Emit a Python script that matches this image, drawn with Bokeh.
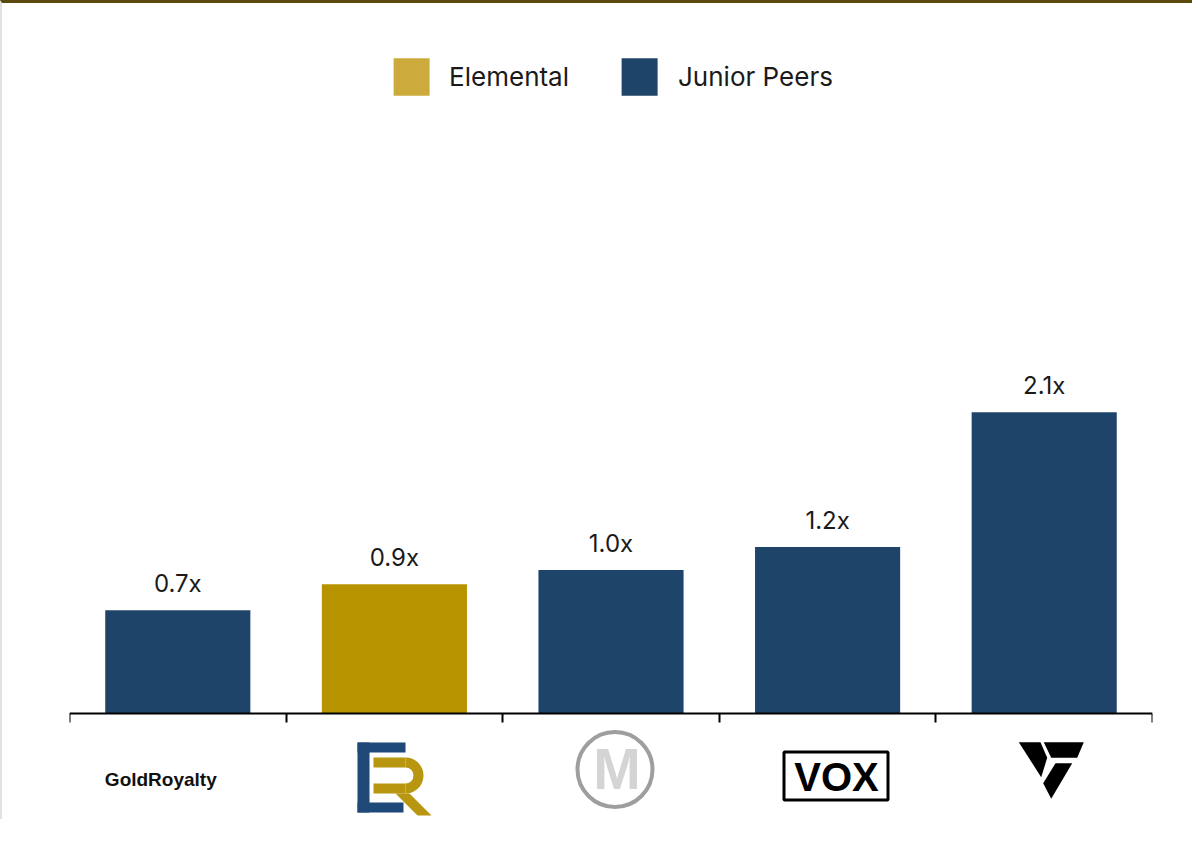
from bokeh.plotting import figure
from bokeh.models import (Range1d, FixedTicker, CustomJSTickFormatter, Legend,
                          LegendItem, ColumnDataSource)
from bokeh.core.properties import value
from bokeh.embed import file_html
from bokeh.resources import INLINE

# ---------------- data ----------------
companies = ["Gold Royalty", "Elemental Royalties", "Metalla", "Vox Royalty", "Versamet"]
multiples = [0.72, 0.90, 1.00, 1.16, 2.10]
value_labels = ["0.7x", "0.9x", "1.0x", "1.2x", "2.1x"]
groups = ["Junior Peers", "Elemental", "Junior Peers", "Junior Peers", "Junior Peers"]
series = ["Elemental", "Junior Peers"]

# ---------------- style ----------------
BAR_COLORS = {"Elemental": "#b89300", "Junior Peers": "#1f4469"}
LEGEND_COLORS = {"Elemental": "#ccab3c", "Junior Peers": "#1f4469"}
LABEL_FONT = "Inter"

FRAME_W = 1083
FRAME_H = 816
AXIS_PX = 710          # axis line position from frame top (px)
PX_PER_UNIT = 143.5    # vertical pixels per 1.0x
n = len(companies)
XPX = FRAME_W / n      # pixels per category

y_end = AXIS_PX / PX_PER_UNIT
y_start = -(FRAME_H - AXIS_PX) / PX_PER_UNIT

p = figure(frame_width=FRAME_W, frame_height=FRAME_H,
           x_range=Range1d(0, n), y_range=Range1d(y_start, y_end),
           output_backend="svg", toolbar_location=None, y_axis_location=None,
           min_border_left=67, min_border_right=40, min_border_top=0,
           min_border_bottom=0, background_fill_color="white",
           border_fill_color="white")
p.styles = {"border-top": "3px solid #5b4a0c", "border-left": "2px solid #e2e2e2"}
p.outline_line_color = None
p.xgrid.visible = False
p.ygrid.visible = False

positions = [i + 0.5 for i in range(n)]
src = ColumnDataSource(dict(x=positions, top=multiples, label=value_labels,
                            color=[BAR_COLORS[g] for g in groups]))
p.vbar(x="x", top="top", width=0.67, source=src, fill_color="color", line_color=None)
p.text(x="x", y="top", text="label", source=src, text_align="center",
       text_baseline="alphabetic", y_offset=-27, text_font=value(LABEL_FONT),
       text_font_size="24px", text_color="#1a1a1a")

# legend proxies (zero-height bars at each group's positions; swatch colours
# are lighter than the bar colours in the reference)
items = []
for s in series:
    xs = [positions[i] for i, g in enumerate(groups) if g == s]
    r = p.vbar(x=xs, top=[0] * len(xs), bottom=[0] * len(xs), width=0.01,
               fill_color=LEGEND_COLORS[s], line_color=None)
    items.append(LegendItem(label=s, renderers=[r]))
legend = Legend(items=items, orientation="horizontal", location="top_center",
                glyph_width=45, glyph_height=47, label_standoff=16, spacing=48,
                label_text_font=LABEL_FONT, label_text_font_size="26px",
                label_text_color="#1a1a1a", border_line_color=None,
                background_fill_alpha=0, margin=50, padding=0)
p.add_layout(legend)

# axis along y = 0 with ticks at category boundaries
ax = p.xaxis[0]
ax.fixed_location = 0
ax.ticker = FixedTicker(ticks=list(range(n + 1)))
ax.formatter = CustomJSTickFormatter(code="return ''")
ax.axis_line_color = "black"
ax.axis_line_width = 2
ax.major_tick_line_color = "black"
ax.major_tick_line_width = 2
ax.major_tick_out = 9
ax.major_tick_in = 0
ax.minor_tick_line_color = None
ax.major_label_standoff = 0
ax.major_label_text_font_size = "6px"

# ---------------- logos under the axis (pixel offsets from category centre / axis) ----
def lx(i, dx):
    return i + 0.5 + dx / XPX

def ly(dy):
    return -dy / PX_PER_UNIT

# 0: Gold Royalty word mark
p.text(x=[lx(0, -17)], y=[ly(66)], text=["GoldRoyalty"], text_align="center",
       text_baseline="alphabetic", text_font=value("Liberation Sans"),
       text_font_style="bold", text_font_size="19px", text_color="#111111")

# 1: Elemental "ER" mark
c = 393.9
E_parts = [(357, 369, 742, 812), (357, 405, 742, 752), (357, 403, 802, 812)]
p.quad(left=[lx(1, a - c) for a, b, t, bt in E_parts],
       right=[lx(1, b - c) for a, b, t, bt in E_parts],
       top=[ly(t - 713) for a, b, t, bt in E_parts],
       bottom=[ly(bt - 713) for a, b, t, bt in E_parts],
       fill_color="#1f4978", line_color=None)
R_parts = [(373, 405, 757, 767), (373, 405, 783, 793)]
gold = "#b8960f"
p.quad(left=[lx(1, a - c) for a, b, t, bt in R_parts],
       right=[lx(1, b - c) for a, b, t, bt in R_parts],
       top=[ly(t - 713) for a, b, t, bt in R_parts],
       bottom=[ly(bt - 713) for a, b, t, bt in R_parts],
       fill_color=gold, line_color=None)
p.annular_wedge(x=[lx(1, 405 - c)], y=[ly(775 - 713)], inner_radius=8, outer_radius=18,
                inner_radius_units="screen", outer_radius_units="screen",
                start_angle=-1.5708, end_angle=1.5708, fill_color=gold, line_color=None)
leg = [(395, 793), (409, 793), (431, 815), (417, 815)]
p.patch(x=[lx(1, a - c) for a, b in leg], y=[ly(b - 713) for a, b in leg],
        fill_color=gold, line_color=None)

# 2: Metalla "M" in a ring
c = 610.5
p.scatter(x=[lx(2, 614.5 - c)], y=[ly(769 - 713)], size=75, marker="circle",
          fill_color=None, line_color="#9e9e9e", line_width=4)
p.text(x=[lx(2, 616.5 - c)], y=[ly(55)], text=["M"], text_align="center",
       text_baseline="alphabetic", text_font=value("Liberation Sans"),
       text_font_style="bold", text_font_size="57px", text_color="#d4d4d4")

# 3: VOX boxed word mark
c = 827.1
p.quad(left=[lx(3, 783.5 - c)], right=[lx(3, 887.5 - c)],
       top=[ly(751.5 - 713)], bottom=[ly(799.5 - 713)],
       fill_color=None, line_color="black", line_width=3)
p.text(x=[lx(3, 836 - c)], y=[ly(63)], text=["VOX"], text_align="center",
       text_baseline="alphabetic", text_font=value("Liberation Sans"),
       text_font_style="bold", text_font_size="40px", text_color="black")

# 4: triangular V mark
c = 1043.7
V_parts = [
    [(1018.3, 741.7), (1040, 741.7), (1046.7, 757.3), (1040.7, 776.7)],
    [(1043.3, 741.7), (1083.3, 741.7), (1076.7, 757.3), (1050.7, 757.3)],
    [(1055, 762.7), (1071.7, 762.7), (1050.7, 798.3), (1042.7, 782.7)],
]
p.patches(xs=[[lx(4, a - c) for a, b in part] for part in V_parts],
          ys=[[ly(b - 713) for a, b in part] for part in V_parts],
          fill_color="black", line_color=None)

open("out.html", "w").write(file_html(p, INLINE))
